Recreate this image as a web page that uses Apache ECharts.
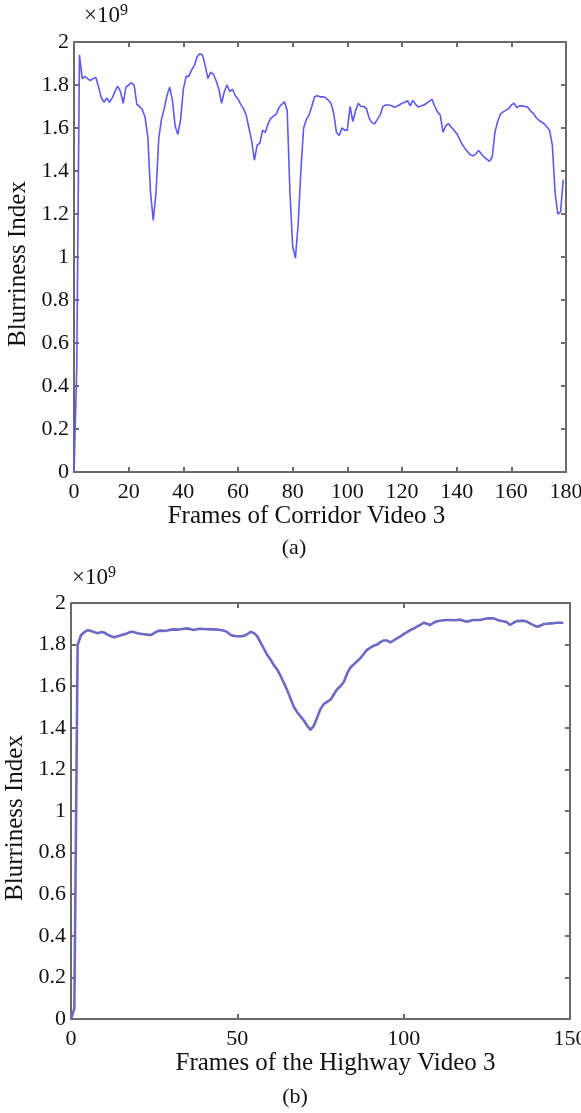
<!DOCTYPE html>
<html>
<head>
<meta charset="utf-8">
<script src="https://cdn.jsdelivr.net/npm/echarts@6/dist/echarts.min.js"></script>
<style>
html, body { margin: 0; padding: 0; background: #fff; }
#chart { width: 581px; height: 1113px; }
</style>
</head>
<body>
<div id="chart"></div>
<script>
// blurriness index per frame, in units of 1e9
var corridorBlur = [
  0.0, 0.48, 1.94, 1.83, 1.84, 1.83, 1.82, 1.83, 1.835, 1.79,
  1.74, 1.72, 1.74, 1.72, 1.74, 1.77, 1.795, 1.77, 1.715, 1.79,
  1.80, 1.81, 1.80, 1.71, 1.70, 1.685, 1.65, 1.56, 1.30, 1.17,
  1.30, 1.55, 1.64, 1.69, 1.75, 1.79, 1.73, 1.61, 1.57, 1.64,
  1.78, 1.84, 1.84, 1.87, 1.89, 1.93, 1.945, 1.94, 1.89, 1.83,
  1.86, 1.85, 1.82, 1.78, 1.715, 1.77, 1.80, 1.77, 1.78, 1.75,
  1.735, 1.71, 1.69, 1.66, 1.60, 1.54, 1.45, 1.52, 1.53, 1.59,
  1.58, 1.62, 1.645, 1.655, 1.665, 1.695, 1.71, 1.722, 1.68, 1.30,
  1.05, 0.995, 1.15, 1.40, 1.60, 1.64, 1.66, 1.70, 1.745, 1.75,
  1.745, 1.745, 1.742, 1.73, 1.715, 1.67, 1.58, 1.565, 1.60, 1.59,
  1.59, 1.70, 1.63, 1.68, 1.715, 1.70, 1.70, 1.69, 1.645, 1.625,
  1.62, 1.64, 1.66, 1.70, 1.707, 1.707, 1.705, 1.697, 1.70, 1.707,
  1.715, 1.72, 1.727, 1.703, 1.728, 1.71, 1.697, 1.703, 1.707, 1.715,
  1.725, 1.733, 1.70, 1.675, 1.66, 1.58, 1.61, 1.62, 1.605, 1.59,
  1.575, 1.55, 1.525, 1.505, 1.49, 1.475, 1.47, 1.48, 1.495, 1.48,
  1.465, 1.455, 1.445, 1.465, 1.58, 1.63, 1.665, 1.675, 1.683, 1.69,
  1.707, 1.716, 1.695, 1.703, 1.703, 1.70, 1.696, 1.68, 1.668, 1.65,
  1.637, 1.628, 1.62, 1.605, 1.59, 1.52, 1.30, 1.20, 1.21, 1.36
];

var highwayBlur = [
  0.0, 0.05, 1.80, 1.845, 1.86, 1.87, 1.865, 1.86, 1.855, 1.86,
  1.858, 1.848, 1.84, 1.835, 1.84, 1.845, 1.85, 1.855, 1.862, 1.86,
  1.855, 1.852, 1.85, 1.848, 1.846, 1.855, 1.865, 1.867, 1.866, 1.868,
  1.872, 1.873, 1.872, 1.874, 1.876, 1.878, 1.874, 1.87, 1.875, 1.876,
  1.875, 1.874, 1.873, 1.873, 1.872, 1.87, 1.867, 1.86, 1.846, 1.842,
  1.84, 1.84, 1.842, 1.85, 1.862, 1.855, 1.84, 1.81, 1.78, 1.75,
  1.728, 1.70, 1.68, 1.65, 1.615, 1.58, 1.54, 1.50, 1.475, 1.455,
  1.435, 1.41, 1.39, 1.41, 1.45, 1.49, 1.515, 1.525, 1.535, 1.56,
  1.585, 1.60, 1.62, 1.66, 1.69, 1.705, 1.72, 1.735, 1.755, 1.775,
  1.785, 1.795, 1.80, 1.812, 1.82, 1.82, 1.81, 1.82, 1.83, 1.84,
  1.85, 1.86, 1.87, 1.877, 1.886, 1.895, 1.905, 1.90, 1.894, 1.905,
  1.912, 1.915, 1.917, 1.918, 1.918, 1.917, 1.918, 1.92, 1.915, 1.91,
  1.915, 1.918, 1.918, 1.918, 1.922, 1.926, 1.927, 1.926, 1.92, 1.915,
  1.912, 1.908, 1.894, 1.905, 1.913, 1.914, 1.915, 1.911, 1.902, 1.894,
  1.886, 1.89, 1.899, 1.90, 1.902, 1.903, 1.905, 1.905, 1.905
];

var corridorTicks = [0, 20, 40, 60, 80, 100, 120, 140, 160, 180];
var highwayTicks = [0, 50, 100, 150];
var yTicks = [0, 0.2, 0.4, 0.6, 0.8, 1, 1.2, 1.4, 1.6, 1.8, 2];

var FONT = '"Liberation Serif", "Times New Roman", serif';
var FS = 22;      // tick labels
var TITLE_FS = 25; // axis titles
var AXIS_COLOR = '#6a6a6a';

var dom = document.getElementById('chart');
var myChart = echarts.init(dom, null, { renderer: 'canvas' });

function toPairs(arr) {
    return arr.map(function (v, i) { return [i, v]; });
}

function yLabel(v) {
    return String(Math.round(v * 10) / 10);
}

function xAxisOf(gridIndex, ticks, pos, title, namePad) {
    var step = ticks[1] - ticks[0];
    var isBottom = pos === 'bottom';
    return {
        type: 'value', gridIndex: gridIndex, position: pos,
        min: ticks[0], max: ticks[ticks.length - 1], interval: step,
        name: isBottom ? title : '', nameLocation: 'middle', nameGap: 31,
        nameTextStyle: { fontFamily: FONT, fontSize: TITLE_FS, color: '#111', padding: namePad || 0 },
        axisLine: { onZero: false, lineStyle: { color: AXIS_COLOR, width: 2 } },
        axisTick: { inside: true, length: 5, lineStyle: { color: AXIS_COLOR, width: 2 } },
        axisLabel: { show: isBottom, fontFamily: FONT, fontSize: FS, color: '#111', margin: 9 },
        splitLine: { show: false }
    };
}

function yAxisOf(gridIndex, pos, gap) {
    var isLeft = pos === 'left';
    return {
        type: 'value', gridIndex: gridIndex, position: pos,
        min: yTicks[0], max: yTicks[yTicks.length - 1], interval: 0.2,
        name: isLeft ? 'Blurriness Index' : '', nameLocation: 'middle', nameGap: gap || 40,
        nameTextStyle: { fontFamily: FONT, fontSize: TITLE_FS, color: '#111', padding: [0, 14, 0, 0] },
        axisLine: { onZero: false, lineStyle: { color: AXIS_COLOR, width: 2 } },
        axisTick: { inside: true, length: 5, lineStyle: { color: AXIS_COLOR, width: 2 } },
        axisLabel: { show: isLeft, fontFamily: FONT, fontSize: FS, color: '#111', margin: 5, formatter: yLabel },
        splitLine: { show: false }
    };
}

function powerLabel(left, top) {
    return {
        type: 'text', left: left, top: top,
        style: {
            text: '×10{sup|9}', fontFamily: FONT, fontSize: 23, fill: '#111',
            rich: { sup: { fontFamily: FONT, fontSize: 16, fill: '#111', padding: [0, 0, 10, 0] } }
        }
    };
}

var option = {
    animation: false,
    backgroundColor: '#fff',
    grid: [
        { left: 74, top: 42, width: 492, height: 430, outerBoundsMode: 'none', containLabel: false },
        { left: 71, top: 603, width: 499, height: 416, outerBoundsMode: 'none', containLabel: false }
    ],
    xAxis: [
        xAxisOf(0, corridorTicks, 'bottom', 'Frames of Corridor Video 3', [0, 27, 0, 0]),
        xAxisOf(0, corridorTicks, 'top'),
        xAxisOf(1, highwayTicks, 'bottom', 'Frames of the Highway Video 3', [0, 0, 0, 30]),
        xAxisOf(1, highwayTicks, 'top')
    ],
    yAxis: [
        yAxisOf(0, 'left', 35), yAxisOf(0, 'right'),
        yAxisOf(1, 'left', 28), yAxisOf(1, 'right')
    ],
    graphic: [
        powerLabel(84, 3),
        powerLabel(72, 565),
        {
            type: 'text', x: 294, y: 548,
            style: { text: '(a)', fontFamily: FONT, fontSize: FS, fill: '#111', align: 'center', verticalAlign: 'middle' }
        },
        {
            type: 'text', x: 295, y: 1097,
            style: { text: '(b)', fontFamily: FONT, fontSize: FS, fill: '#111', align: 'center', verticalAlign: 'middle' }
        }
    ],
    series: [
        {
            name: 'Corridor Video 3',
            type: 'line',
            xAxisIndex: 0, yAxisIndex: 0,
            showSymbol: false,
            data: toPairs(corridorBlur),
            lineStyle: { color: '#5a5af2', width: 1.6 }
        },
        {
            // empty series so the mirrored frame axes are drawn
            type: 'line', xAxisIndex: 1, yAxisIndex: 1, data: []
        },
        {
            name: 'Highway Video 3',
            type: 'line',
            xAxisIndex: 2, yAxisIndex: 2,
            showSymbol: false,
            data: toPairs(highwayBlur),
            lineStyle: { color: '#6a6ac4', width: 2.6 }
        },
        {
            type: 'line', xAxisIndex: 3, yAxisIndex: 3, data: []
        }
    ]
};

if (option && typeof option === 'object') {
    myChart.setOption(option, true);
}
</script>
</body>
</html>
